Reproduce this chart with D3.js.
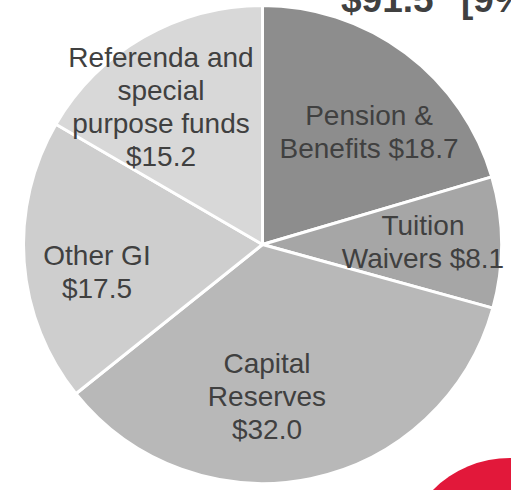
<!DOCTYPE html>
<html>
<head>
<meta charset="utf-8">
<script src="https://cdn.jsdelivr.net/npm/d3@7"></script>
<style>
  html, body { margin: 0; padding: 0; background: #ffffff; overflow: hidden; }
  svg { display: block; }
  text { font-family: "Liberation Sans", Arial, sans-serif; }
</style>
</head>
<body>
<script>
// ---- data ----
const categories = ["Pension & Benefits", "Tuition Waivers", "Capital Reserves", "Other GI", "Referenda and special purpose funds"];
const values = [18.7, 8.1, 32.0, 17.5, 15.2];
const labelLines = [
  ["Pension &", "Benefits $18.7"],
  ["Tuition", "Waivers $8.1"],
  ["Capital", "Reserves", "$32.0"],
  ["Other GI", "$17.5"],
  ["Referenda and", "special", "purpose funds", "$15.2"]
];
const titleParts = ["$91.5", "[9%]"];

// ---- layout / style ----
const W = 511, H = 490;
const cx = 262.5, cy = 244.5, R = 239;
const colors = ["#8d8d8d", "#a6a6a6", "#b8b8b8", "#cecece", "#d8d8d8"];
// first-line baseline anchor for each label (x center, y baseline)
const labelAnchor = [[369, 125], [423, 235], [267, 373], [97, 265], [161, 67]];
const lineH = 33;

const svg = d3.select("body").append("svg").attr("width", W).attr("height", H);

// red decorative circle (bottom-right)
svg.append("circle").attr("cx", 510).attr("cy", 567).attr("r", 109).attr("fill", "#e2183a");

// title (partly cut off at top, as in the source)
const title = svg.append("text")
  .attr("y", 12)
  .attr("font-size", 37)
  .attr("font-weight", "bold")
  .attr("fill", "#404040");
title.append("tspan").attr("x", 341).text(titleParts[0]);
title.append("tspan").attr("x", 461).text(titleParts[1]);

const g = svg.append("g").attr("transform", `translate(${cx},${cy})`);

const pie = d3.pie().sort(null).startAngle(0).endAngle(2 * Math.PI);
const arcs = pie(values);
const arc = d3.arc().innerRadius(0).outerRadius(R);

g.selectAll("path.slice")
  .data(arcs)
  .join("path")
  .attr("class", "slice")
  .attr("d", arc)
  .attr("fill", (d, i) => colors[i])
  .attr("stroke", "#ffffff")
  .attr("stroke-width", 3)
  .attr("stroke-linejoin", "round");

const labels = svg.append("g");
categories.forEach((c, i) => {
  const t = labels.append("text")
    .attr("text-anchor", "middle")
    .attr("font-size", 28)
    .attr("fill", "#404040");
  labelLines[i].forEach((ln, j) => {
    t.append("tspan")
      .attr("x", labelAnchor[i][0])
      .attr("y", labelAnchor[i][1] + j * lineH)
      .text(ln);
  });
});
</script>
</body>
</html>
